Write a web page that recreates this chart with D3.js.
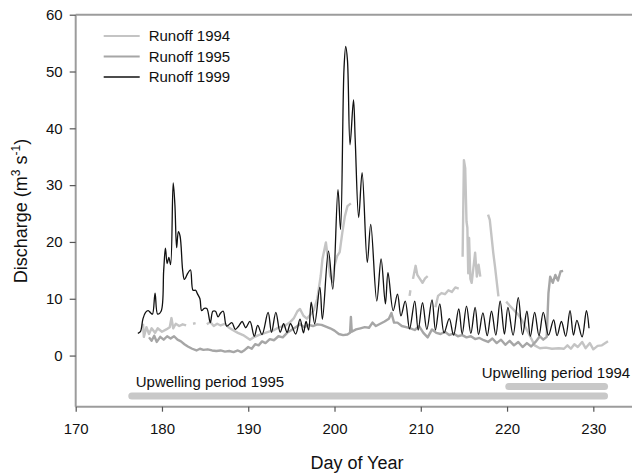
<!DOCTYPE html>
<html>
<head>
<meta charset="utf-8">
<script src="https://cdn.jsdelivr.net/npm/d3@7"></script>
<style>
  body { margin: 0; background: #fff; }
  svg { display: block; font-family: Arial, "Liberation Sans", sans-serif; }
</style>
</head>
<body>
<div id="chart"></div>
<script>
// Runoff records (day of year, discharge m3/s); null marks a gap in the record
var days1994 = [177.8, 177.9, 178.2, 178.5, 178.8, 179.2, 179.5, 180.0, 180.5, 180.9, 181.1, 181.3, 181.6, 182.0, 182.4, 182.8, null,
  183.6, 183.9, null,
  185.2, 185.6, 186.0, 186.4, 186.8, 187.3, 187.7, 188.2, 188.8, 189.4, 190.0, 190.2, 190.6, 191.2, 191.8, 192.4, 193.0, 193.6, 194.2, 194.8,
  195.3, 195.7, 196.0, 196.4, 196.8, 197.2, 197.6, 198.0, 198.4, 198.6, 199.0, 199.2, 199.5, 199.8, 200.0, 200.3, 200.6, 200.9, 201.2, 201.5, 201.9, null,
  208.7, 208.8, null,
  209.1, 209.4, 209.6, 209.9, 210.2, 210.5, 210.8, null,
  211.7, 212.0, 212.4, 212.8, 213.2, 213.6, 214.0, 214.4, null,
  214.85, 215.0, 215.15, 215.3, 215.4, 215.5, 215.6, 215.75, 215.9, 216.3, 216.5, 216.7, 216.9, null,
  217.8, 218.0, 218.4, 218.6, 219.0, null,
  219.9, 220.3, 220.8, 221.3, 221.8, 222.3, 222.8, 223.2, 223.8, 224.5, 225.2, 226.0, 226.6, 227.0, 227.4, 227.8, 228.2, 228.7, 229.1, 229.6, 230.0, 230.5, 231.0, 231.7];
var runoff1994 = [5.6, 3.3, 5.0, 3.8, 4.8, 4.0, 4.8, 4.2, 4.6, 5.0, 6.6, 4.8, 5.6, 5.2, 5.5, 5.3, null,
  5.6, 5.7, null,
  5.5, 5.9, 5.2, 5.6, 5.3, 5.6, 5.0, 4.5, 4.0, 3.6, 3.0, 2.8, 3.2, 3.6, 3.9, 4.2, 4.5, 5.0, 5.2, 5.8,
  6.6, 7.8, 8.2, 7.0, 6.5, 7.2, 8.0, 10.0, 14.0, 17.0, 19.9, 17.5, 14.0, 13.0, 15.8, 17.5, 18.2, 21.6, 24.5, 26.3, 26.8, null,
  10.5, 11.5, null,
  13.5, 15.8, 14.2, 13.5, 12.8, 13.6, 14.0, null,
  8.5, 10.5, 11.0, 10.8, 11.5, 11.2, 12.0, 11.8, null,
  17.4, 34.4, 33.0, 23.6, 22.5, 14.5, 20.7, 13.5, 12.8, 18.1, 13.9, 16.0, 13.9, null,
  24.8, 23.9, 18.1, 15.7, 10.4, null,
  9.5, 8.8, 8.0, 7.2, 6.0, 4.5, 3.0, 1.8, 1.3, 1.4, 1.2, 1.3, 1.2, 1.8, 1.2, 2.0, 1.5, 2.4, 1.3, 2.2, 1.1, 1.7, 1.8, 2.5];

var days1995 = [178.5, 178.8, 179.1, 179.4, 179.8, 180.2, 180.6, 181.0, 181.4, 181.8, 182.2, 182.6, 183.0, 183.5, 184.0, 184.4, 184.8,
  185.3, 185.8, 186.3, 186.8, 187.3, 187.8, 188.3, 188.8, 189.2, 189.6, 190.0, 190.4, 190.8, 191.2, 191.6, 192.0, 192.5, 193.0, 193.5,
  194.0, 194.5, 195.0, 195.5, 196.0, 196.5, 197.0, 197.5, 198.0, 198.5, 199.0, 199.5, 200.0, 200.5, 201.0, 201.5, 201.8, 201.9, 202.0,
  202.5, 203.0, 203.5, 204.0, 204.4, 204.8, 205.3, 205.8, 206.3, 206.6, 206.9, 207.3, 207.8, 208.3, 208.8, 209.3, 209.8, 210.3, 210.8,
  211.3, 211.8, 212.3, 212.8, 213.3, 213.8, 214.3, 214.8, 215.3, 215.8, 216.3, 216.8, 217.3, 217.8, 218.3, 218.8, 219.3, 219.8, 220.3,
  220.8, 221.3, 221.8, 222.3, 222.8, 223.3, 223.8, 224.2, 224.6, 224.8, 225.0, 225.3, 225.6, 225.9, 226.2, 226.5];
var runoff1995 = [3.2, 2.6, 3.5, 2.4, 3.3, 2.8, 3.4, 3.0, 3.4, 2.8, 2.5, 2.0, 1.6, 1.2, 0.9, 1.2, 1.0,
  1.1, 0.9, 0.8, 0.9, 0.7, 0.8, 0.6, 0.9, 0.6, 1.0, 1.5, 1.2, 2.0, 1.8, 2.5, 2.2, 2.9, 2.7, 3.4,
  3.2, 4.0, 4.5, 5.0, 5.5, 5.0, 5.4, 5.2, 5.5, 5.4, 5.1, 4.8, 4.4, 3.8, 3.6, 3.7, 4.0, 6.8, 4.2,
  4.6, 4.8, 5.0, 4.9, 5.8, 5.2, 5.6, 6.0, 6.5, 7.5, 5.8, 5.8, 5.2, 5.0, 4.8, 4.5, 5.2, 4.0, 3.2,
  4.6, 4.0, 3.8, 4.2, 3.6, 3.9, 3.4, 3.6, 3.2, 3.4, 2.9, 3.1, 2.7, 2.4, 3.0, 2.2, 2.8, 1.9, 2.6,
  1.8, 2.4, 1.5, 2.2, 1.6, 2.4, 3.4, 2.8, 3.3, 11.0, 13.9, 12.8, 14.2, 13.2, 14.8, 14.9];

var days1999 = [177.2, 177.5, 177.8, 178.1, 178.4, 178.7, 178.9, 179.2, 179.5, 179.9, 180.2, 180.4, 180.6, 180.8, 181.0, 181.3, 181.5,
  181.7, 181.9, 182.1, 182.4, 182.6, 183.0, 183.3, 183.6, 183.9, 184.1, 184.4, 184.6, 184.9, 185.2, 185.6, 185.9, 186.2, 186.5, 186.8,
  187.1, 187.5, 188.1, 188.5, 188.9, 189.3, 189.7, 190.2, 190.7, 191.1, 191.6, 192.3, 192.7, 193.2, 193.7, 194.1, 194.5, 194.9, 195.5,
  196.0, 196.4, 196.7, 197.0, 197.3, 197.7, 198.3, 198.6, 199.3, 199.8, 200.4, 200.7, 201.1, 201.3, 201.5, 201.8, 202.2, 202.4, 202.8,
  203.2, 203.8, 204.2, 204.9, 205.4, 205.9, 206.2, 206.8, 207.3, 207.7, 208.2, 208.7, 209.3, 209.7, 210.2, 210.7, 211.3, 211.7, 212.2,
  212.7, 213.3, 213.8, 214.4, 214.8, 215.3, 215.8, 216.3, 216.7, 217.2, 217.7, 218.2, 218.7, 219.2, 219.7, 220.1, 220.7, 221.3, 221.8,
  222.3, 222.7, 223.2, 223.7, 224.2, 224.8, 225.4, 225.8, 226.3, 226.8, 227.3, 227.7, 228.1, 228.7, 229.2, 229.5];
var runoff1999 = [3.9, 4.2, 6.5, 7.6, 7.9, 7.5, 7.3, 11.0, 7.3, 7.8, 15.0, 18.9, 16.2, 17.3, 16.0, 30.4, 26.5,
  19.0, 21.8, 21.0, 15.0, 13.4, 14.5, 15.1, 11.5, 11.5, 10.9, 10.0, 7.9, 8.3, 8.3, 5.8, 7.8, 7.8, 6.8, 7.5,
  7.8, 5.2, 5.8, 4.6, 5.2, 6.0, 4.9, 6.0, 3.4, 5.3, 3.7, 7.6, 4.1, 7.6, 4.1, 5.6, 4.1, 5.6, 3.8,
  6.4, 4.0, 6.0, 4.5, 9.4, 5.6, 12.0, 6.4, 18.4, 11.7, 29.2, 22.2, 50.5, 54.4, 52.0, 37.1, 45.0, 38.0, 24.3,
  32.2, 16.4, 23.1, 9.6, 17.0, 9.1, 14.6, 7.9, 10.8, 7.0, 9.6, 4.7, 9.6, 4.5, 9.3, 4.6, 9.8, 4.5, 9.1,
  4.0, 6.5, 3.6, 8.2, 3.8, 8.7, 3.9, 8.5, 3.7, 7.5, 3.5, 7.8, 3.6, 9.6, 3.8, 8.5, 3.6, 10.2, 3.7,
  7.8, 3.4, 7.6, 3.5, 7.6, 3.6, 6.3, 3.5, 6.0, 3.4, 7.9, 3.6, 6.2, 3.3, 7.9, 4.8];

// Upwelling periods drawn as bars under the zero line
var upwellingLabels = ["Upwelling period 1995", "Upwelling period 1994"];
var upwellingStart = [176.5, 220.2];
var upwellingEnd = [231.3, 231.3];
var upwellingLevel = [-7.1, -5.45];

var seriesNames = ["Runoff 1994", "Runoff 1995", "Runoff 1999"];
var seriesColors = ["#c4c4c4", "#a6a6a6", "#111111"];
var seriesWidths = [2.4, 2.4, 1.3];

var xTicks = [170, 180, 190, 200, 210, 220, 230];
var yTicks = [0, 10, 20, 30, 40, 50, 60];

var margin = { top: 14.7, right: 0, bottom: 68.3, left: 75.7 },
  width = 632 - margin.left - margin.right,
  height = 475 - margin.top - margin.bottom;

var svg = d3
  .select("#chart")
  .append("svg")
  .attr("width", 632)
  .attr("height", 475);

var g = svg
  .append("g")
  .attr("transform", "translate(" + margin.left + "," + margin.top + ")");

var x = d3.scaleLinear().domain([170, 170 + width / 8.627]).range([0, width]);
var y = d3.scaleLinear().domain([-9, 60]).range([height, 0]);

function pairs(days, vals) {
  return days.map(function (d, i) {
    return { day: d, value: vals[i] };
  });
}

var series = [
  pairs(days1994, runoff1994),
  pairs(days1995, runoff1995),
  pairs(days1999, runoff1999),
];

function makeLine(curve) {
  return d3
    .line()
    .defined(function (d) {
      return d.day != null && d.value != null;
    })
    .x(function (d) {
      return x(d.day);
    })
    .y(function (d) {
      return y(d.value);
    })
    .curve(curve);
}
// the 1999 record is smooth (daily melt cycle), the older ones are noisier
var lineCurves = [d3.curveLinear, d3.curveLinear, d3.curveCatmullRom.alpha(0.5)];

// frame: left, top and bottom lines
var axisColor = "#9c9c9c";
g.append("line")
  .attr("x1", 0).attr("x2", width + 5)
  .attr("y1", 0).attr("y2", 0)
  .attr("stroke", axisColor).attr("stroke-width", 2);

var yAxis = g.append("g").call(d3.axisLeft(y).tickValues(yTicks).tickSize(6).tickPadding(7));
var xAxis = g
  .append("g")
  .attr("transform", "translate(0," + height + ")")
  .call(d3.axisBottom(x).tickValues(xTicks).tickSize(5).tickPadding(12));

[xAxis, yAxis].forEach(function (ax) {
  ax.select(".domain").attr("stroke", axisColor).attr("stroke-width", 2);
  ax.selectAll(".tick line").attr("stroke", "#555").attr("stroke-width", 1.2);
  ax.selectAll("text").attr("fill", "#111").style("font-size", "15px").style("font-family", "Arial, 'Liberation Sans', sans-serif");
});
yAxis.select(".domain").attr("d", "M0," + y(60) + "V" + height);
xAxis.select(".domain").attr("d", "M0,0H" + (width + 5));

// upwelling bars
g.selectAll(".upwelling")
  .data(upwellingLabels)
  .enter()
  .append("line")
  .attr("class", "upwelling")
  .attr("x1", function (d, i) { return x(upwellingStart[i]); })
  .attr("x2", function (d, i) { return x(upwellingEnd[i]); })
  .attr("y1", function (d, i) { return y(upwellingLevel[i]); })
  .attr("y2", function (d, i) { return y(upwellingLevel[i]); })
  .attr("stroke", "#c8c8c8")
  .attr("stroke-width", 7)
  .attr("stroke-linecap", "round");

g.selectAll(".upwelling-label")
  .data(upwellingLabels)
  .enter()
  .append("text")
  .attr("class", "upwelling-label")
  .attr("x", function (d, i) { return i == 0 ? x(upwellingStart[i]) + 4 : x(upwellingStart[i]) - 27; })
  .attr("y", function (d, i) { return y(upwellingLevel[i]) - 9; })
  .attr("fill", "#111")
  .style("font-size", "15px")
  .text(function (d) { return d; });

// runoff lines
g.selectAll(".runoff")
  .data(series)
  .enter()
  .append("path")
  .attr("class", "runoff")
  .attr("fill", "none")
  .attr("stroke", function (d, i) { return seriesColors[i]; })
  .attr("stroke-width", function (d, i) { return seriesWidths[i]; })
  .attr("stroke-linejoin", "round")
  .attr("d", function (d, i) { return makeLine(lineCurves[i])(d); });

// legend
var legend = g
  .selectAll(".legend")
  .data(seriesNames)
  .enter()
  .append("g")
  .attr("class", "legend")
  .attr("transform", function (d, i) {
    return "translate(28," + (21.3 + i * 20.5) + ")";
  });
legend.append("line")
  .attr("x1", 0).attr("x2", 36)
  .attr("stroke", function (d, i) { return seriesColors[i]; })
  .attr("stroke-width", function (d, i) { return i == 2 ? 1.3 : 2; });
legend.append("text")
  .attr("x", 45)
  .attr("y", 5)
  .attr("fill", "#111")
  .style("font-size", "15px")
  .text(function (d) { return d; });

// axis titles
svg.append("text")
  .attr("x", margin.left + x(202.6))
  .attr("y", 469)
  .attr("text-anchor", "middle")
  .attr("fill", "#111")
  .style("font-size", "18px")
  .text("Day of Year");

var yTitle = svg.append("text")
  .attr("transform", "translate(27," + 211 + ") rotate(-90)")
  .attr("text-anchor", "middle")
  .attr("fill", "#111")
  .style("font-size", "18px");
yTitle.append("tspan").text("Discharge (m");
yTitle.append("tspan").attr("dy", -7).style("font-size", "12px").text("3");
yTitle.append("tspan").attr("dy", 7).text(" s");
yTitle.append("tspan").attr("dy", -7).style("font-size", "12px").text("-1");
yTitle.append("tspan").attr("dy", 7).text(")");
</script>
</body>
</html>
